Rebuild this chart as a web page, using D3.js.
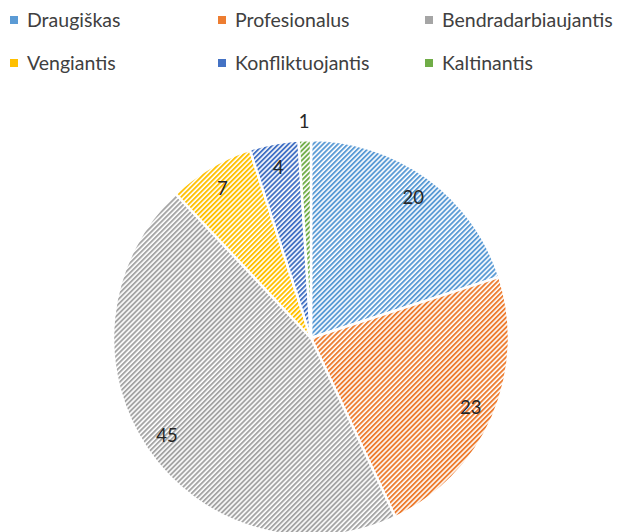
<!DOCTYPE html>
<html><head><meta charset="utf-8">
<script src="https://cdn.jsdelivr.net/npm/d3@7"></script>
<style>body{margin:0;background:#fff}svg{display:block}</style>
</head><body>
<script>
const categories = ["Draugiškas","Profesionalus","Bendradarbiaujantis","Vengiantis","Konfliktuojantis","Kaltinantis"];
const values = [20,23,45,7,4,1];
const colors = ["#5B9BD5","#ED7D31","#A5A5A5","#FFC000","#4472C4","#70AD47"];

const W=625,H=532;
const svg=d3.select("body").append("svg").attr("width",W).attr("height",H);
const defs=svg.append("defs");
colors.forEach((c,i)=>{
  const p=defs.append("pattern").attr("id","hp"+i).attr("patternUnits","userSpaceOnUse")
    .attr("width",3.5).attr("height",3.5).attr("patternTransform","rotate(45)");
  p.append("rect").attr("width",3.5).attr("height",3.5).attr("fill","#fff");
  p.append("rect").attr("width",1.9).attr("height",3.5).attr("fill",c);
});

const cx=311, cy=338, R=198;
const pie=d3.pie().sort(null).value(d=>d)(values);
const arc=d3.arc().innerRadius(0).outerRadius(R);
const g=svg.append("g").attr("transform",`translate(${cx},${cy})`);
g.selectAll("path").data(pie).join("path")
  .attr("d",arc).attr("fill",(d,i)=>`url(#hp${i})`)
  .attr("stroke","#fff").attr("stroke-width",2.5).attr("stroke-linejoin","round");

g.selectAll("text").data(pie).join("text")
  .attr("transform",d=>{
    const a=(d.startAngle+d.endAngle)/2;
    const r = d.data<2 ? R+19 : R-24;
    return `translate(${Math.sin(a)*r},${-Math.cos(a)*r})`;
  })
  .attr("text-anchor","middle").attr("dy","0.35em")
  .attr("font-family","Lato, 'Open Sans', sans-serif").attr("font-size",18.5).attr("fill","#262626")
  .text(d=>d.data);

const lg=svg.append("g");
const colX=[10,218,425], rowY=[20,63];
categories.forEach((c,i)=>{
  const x=colX[i%3], y=rowY[Math.floor(i/3)];
  lg.append("rect").attr("x",x).attr("y",y-4).attr("width",8).attr("height",8).attr("fill",colors[i]);
  lg.append("text").attr("x",x+17).attr("y",y).attr("dy","0.35em")
    .attr("font-family","Lato, 'Open Sans', sans-serif").attr("font-size",19.5).attr("fill","#404040").text(c);
});
</script>
</body></html>
